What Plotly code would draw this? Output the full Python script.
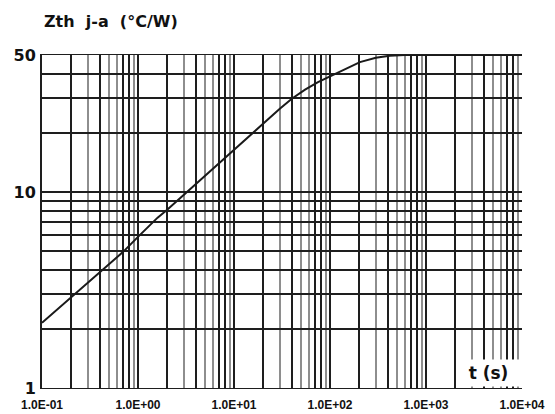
import numpy as np
import plotly.graph_objects as go

# Curve data
t_s = [0.1, 0.2, 0.5, 0.7, 1, 1.6, 2, 4, 9, 18.7, 30, 40, 55, 75, 108, 150, 205, 300, 420, 600, 10000]
zth = [2.15, 2.9, 4.3, 4.95, 5.9, 7.4, 8.1, 11.0, 15.8, 21.6, 26.6, 29.9, 33.3, 36.4, 39.6, 42.9, 46.0, 48.4, 49.6, 50, 50]

# Axis ticks / grid
decades = [0.1, 1, 10, 100, 1000]
x_labels = ["1.0E-01", "1.0E+00", "1.0E+01", "1.0E+02", "1.0E+03", "1.0E+04"]
dark_mult = [1, 2, 4, 7, 8]
grey_mult = [3, 5, 6, 9]
y_ticks = [1, 2, 3, 4, 5, 6, 7, 8, 9, 10, 20, 30, 40, 50]
y_labels = {1: "1", 10: "10", 50: "50"}

label_pos = decades + [10000]
x_major = [d * m for d in decades for m in dark_mult] + [10000]
x_text = []
for v in x_major:
    lab = ""
    for i, d in enumerate(label_pos):
        if abs(v - d) < 1e-9 * d:
            lab = x_labels[i]
    x_text.append(lab)
x_minor = [d * m for d in decades for m in grey_mult]
y_text = [y_labels.get(v, "") for v in y_ticks]

fig = go.Figure()
fig.add_trace(go.Scatter(
    x=t_s, y=zth, mode="lines",
    line=dict(color="#1a1a1a", width=2),
    hoverinfo="skip", showlegend=False,
))

# the page body adds an 8px offset, so the figure is sized to fit the window
fig.update_layout(
    width=547, height=406,
    margin=dict(l=34, r=33, t=47, b=26, autoexpand=False),
    paper_bgcolor="white", plot_bgcolor="white",
    xaxis=dict(
        type="log", range=[-1, 4], automargin=False,
        tickmode="array", tickvals=x_major, ticktext=x_text,
        ticks="", showgrid=True, gridcolor="#1e1e1e", gridwidth=2,
        minor=dict(tickmode="array", tickvals=x_minor, showgrid=True,
                   gridcolor="#8e8e8e", gridwidth=2, ticks=""),
        showline=True, linecolor="#1e1e1e", linewidth=1, mirror=True,
        zeroline=False, ticklabelstandoff=6,
        tickfont=dict(family="Liberation Sans", size=12, color="#111", weight="bold"),
        tickangle=0,
    ),
    yaxis=dict(
        type="log", range=[0, np.log10(50)], automargin=False,
        tickmode="array", tickvals=y_ticks, ticktext=y_text,
        ticks="", showgrid=True, gridcolor="#1e1e1e", gridwidth=2,
        showline=True, linecolor="#1e1e1e", linewidth=2, mirror=False,
        zeroline=False, ticklabelstandoff=1,
        tickfont=dict(family="DejaVu Sans", size=16, color="#111", weight="bold"),
    ),
    annotations=[
        dict(text="Zth\u00a0 j-a\u00a0 (°C/W)", xref="paper", yref="paper",
             x=0, y=1.10, xanchor="left", yanchor="middle", showarrow=False,
             font=dict(family="DejaVu Sans", size=16, color="#111", weight="bold")),
        dict(text="t (s)", xref="x", yref="y",
             x=3.65, y=0.078, xanchor="center", yanchor="middle", showarrow=False,
             bgcolor="white", width=59, height=22, borderpad=2,
             font=dict(family="DejaVu Sans", size=17, color="#111", weight="bold")),
    ],
)

fig.write_html("out.html")
